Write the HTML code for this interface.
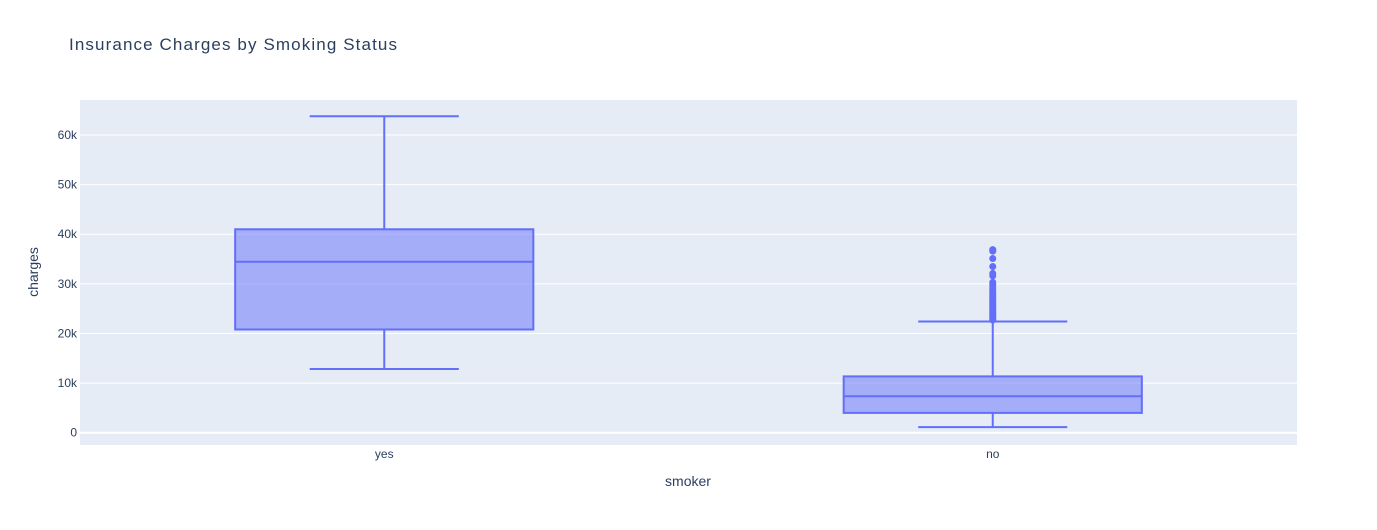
<!DOCTYPE html>
<html><head><meta charset="utf-8"><style>
body{margin:0;background:#fff;font-family:"Liberation Sans",Arial,sans-serif;}
svg text{font-family:"Liberation Sans",Arial,sans-serif;fill:#2a3f5f;}
</style></head><body>
<svg id="chart" width="1377" height="525">
<rect x="0" y="0" width="1377" height="525" fill="#fff"/>
<text x="69" y="50" font-size="17" textLength="328">Insurance Charges by Smoking Status</text>
<rect x="80" y="100" width="1217" height="345" fill="#e5ecf6"/>
<g id="grid"></g>
<g id="boxes"></g>
<text x="688" y="486" font-size="14" text-anchor="middle">smoker</text>
<text transform="translate(38,272) rotate(-90)" font-size="14" text-anchor="middle">charges</text>
</svg>
<script>
const categories=["yes","no"];
const mins=[12830,1122];
const q1s=[20800,3990];
const medians=[34450,7350];
const q3s=[41000,11350];
const maxes=[63770,22400];
const outliersNo=[36900,36600,35100,33500,32100,31600,30300,29900,29400,28900,28500,28100,27700,27300,26900,26500,26200,25800,25400,25000,24600,24200,23800,23400,23000,22700];
const yTicks=[0,10000,20000,30000,40000,50000,60000];
const yTickLabels=["0","10k","20k","30k","40k","50k","60k"];
const ns="http://www.w3.org/2000/svg";
const X0=80,W=1217,band=W/categories.length;
const y=v=>432.7-v*(432.7-135)/60000;
const xc=i=>X0+band*(i+0.5);
function mk(t,a,p){const e=document.createElementNS(ns,t);for(const k in a)e.setAttribute(k,a[k]);p.appendChild(e);return e;}
const g=document.getElementById('grid');
yTicks.forEach((v,i)=>{
  const l=mk('line',{x1:X0,x2:X0+W,y1:y(v),y2:y(v),stroke:'#fff','stroke-width':v===0?2:1},g);
  
  
  const t=mk('text',{x:X0-3,y:y(v)+4,'font-size':12,'text-anchor':'end'},g);
  t.textContent=yTickLabels[i];
  
  
});
const b=document.getElementById('boxes');
const col='#636efa';
categories.forEach((c,i)=>{
  const cx=xc(i),hw=band*0.245,ww=hw/2;
  const grp=mk('g',{},b);
  
  
  mk('line',{x1:cx,x2:cx,y1:y(maxes[i]),y2:y(q3s[i]),stroke:col,'stroke-width':2},grp);
  mk('line',{x1:cx,x2:cx,y1:y(q1s[i]),y2:y(mins[i]),stroke:col,'stroke-width':2},grp);
  mk('line',{x1:cx-ww,x2:cx+ww,y1:y(maxes[i]),y2:y(maxes[i]),stroke:col,'stroke-width':2},grp);
  mk('line',{x1:cx-ww,x2:cx+ww,y1:y(mins[i]),y2:y(mins[i]),stroke:col,'stroke-width':2},grp);
  mk('rect',{x:cx-hw,y:y(q3s[i]),width:2*hw,height:y(q1s[i])-y(q3s[i]),fill:'rgba(99,110,250,0.5)',stroke:col,'stroke-width':2},grp);
  mk('line',{x1:cx-hw,x2:cx+hw,y1:y(medians[i]),y2:y(medians[i]),stroke:col,'stroke-width':2},grp);
  const t=mk('text',{x:cx,y:458,'font-size':12,'text-anchor':'middle'},b);
  t.textContent=c;
  
  
});
outliersNo.forEach(v=>{
  const p=mk('circle',{cx:xc(1),cy:y(v),r:3.5,fill:col},b);
  
  
});
</script>
</body></html>
